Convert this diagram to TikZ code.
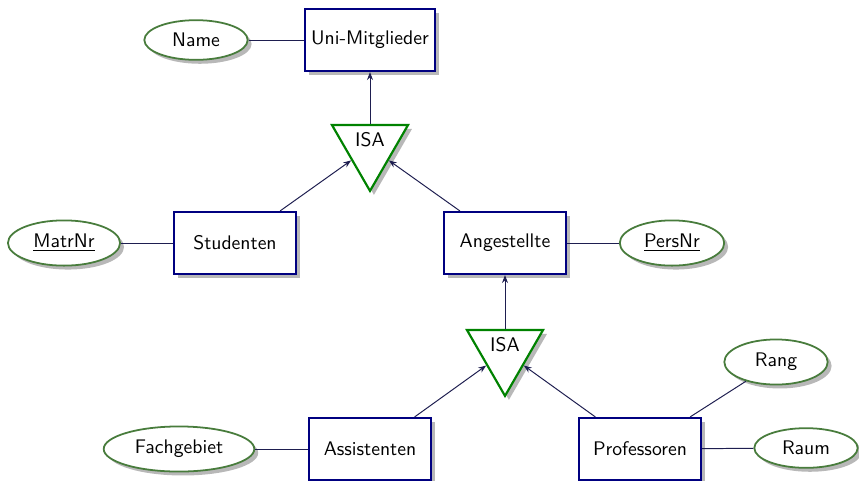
\documentclass[tikz,border=0pt]{standalone}
\usetikzlibrary{shapes.geometric,shadows,arrows.meta}
\definecolor{entblue}{RGB}{0,0,128}
\definecolor{attgreen}{RGB}{72,124,60}
\definecolor{isagreen}{RGB}{0,130,0}
\definecolor{linkcol}{RGB}{30,30,80}
\begin{document}
\begin{tikzpicture}[x=0.508pt,y=-0.508pt,font=\sffamily,
  shade/.style={drop shadow={shadow xshift=2pt,shadow yshift=-2pt,fill=black!28,opacity=1}},
  entity/.style={rectangle,draw=entblue,line width=1.1pt,fill=white,
    minimum width=62pt,minimum height=31.5pt,shade},
  attr/.style={ellipse,draw=attgreen,line width=0.9pt,fill=white,
    inner xsep=4.6pt,inner ysep=3.6pt,minimum width=52.5pt,shade},
  isa/.style={regular polygon,regular polygon sides=3,shape border rotate=180,
    draw=isagreen,line width=1.1pt,fill=white,inner sep=0pt,minimum size=44.6pt,shade},
  link/.style={draw=linkcol,line width=0.5pt},
  isalink/.style={link,-{Stealth[length=4pt,width=3pt]}}]
\useasboundingbox (0,0) rectangle (859,480);

% entities
\node[entity] (uni)  at (370,40)  {Uni-Mitglieder};
\node[entity] (stud) at (235,243) {Studenten};
\node[entity] (ang)  at (505,243) {Angestellte};
\node[entity] (assi) at (370,449) {Assistenten};
\node[entity] (prof) at (640,449) {Professoren};

% attributes
\node[attr] (name) at (196,40)  {Name};
\node[attr] (matr) at (64,243)  {\underline{MatrNr}};
\node[attr] (pers) at (672,243) {\underline{PersNr}};
\node[attr] (fach) at (179,449) {Fachgebiet};
\node[attr] (rang) at (776,362) {Rang};
\node[attr] (raum) at (806,448) {Raum};

% generalisations
\node[isa] (isa1) at (370,147) {};
\node (isa1t) at (370,140) {ISA};
\node[isa] (isa2) at (505,352) {};
\node (isa2t) at (505,345) {ISA};

% attribute links
\draw[link] (name) -- (uni);
\draw[link] (matr) -- (stud);
\draw[link] (pers) -- (ang);
\draw[link] (fach) -- (assi);
\draw[link] (prof) -- (raum);
\draw[link] (prof) -- (rang);

% is-a links
\draw[isalink] (isa1) -- (uni);
\draw[isalink] (stud) -- (isa1);
\draw[isalink] (ang) -- (isa1);
\draw[isalink] (isa2) -- (ang);
\draw[isalink] (assi) -- (isa2);
\draw[isalink] (prof) -- (isa2);
\end{tikzpicture}
\end{document}
